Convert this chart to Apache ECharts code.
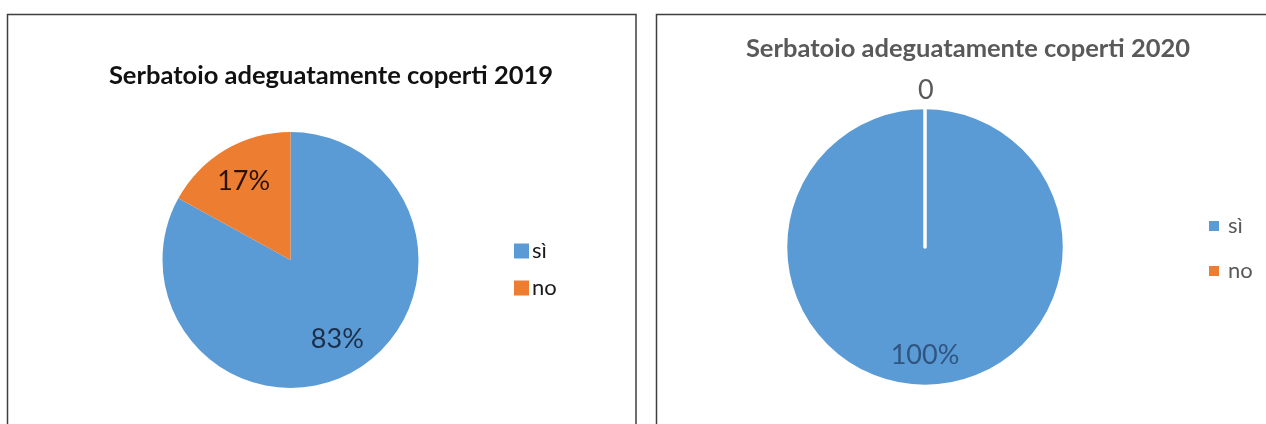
<!DOCTYPE html>
<html>
<head>
<meta charset="utf-8">
<script src="https://cdn.jsdelivr.net/npm/echarts@6/dist/echarts.min.js"></script>
<style>
  html, body { margin: 0; padding: 0; background: #ffffff; }
  #chart { width: 1266px; height: 424px; }
</style>
</head>
<body>
<div id="chart"></div>
<script>
// Categories and values for the two survey years
const categories = ['sì', 'no'];
const values2019 = [83, 17];
const values2020 = [100, 0];
const title2019 = 'Serbatoio adeguatamente coperti 2019';
const title2020 = 'Serbatoio adeguatamente coperti 2020';
const colors = ['#5b9bd5', '#ed7d31'];

const FONT = 'Lato, "Open Sans", sans-serif';

function items(values, extra) {
  return categories.map((name, i) => Object.assign({ name: name, value: values[i] }, extra ? extra(i) : {}));
}

const chart = echarts.init(document.getElementById('chart'), null, { renderer: 'canvas' });

const option = {
  animation: false,
  color: colors,
  graphic: [
    // panel frames
    { type: 'rect', shape: { x: 7.5, y: 14.5, width: 628.5, height: 430 },
      style: { fill: 'none', stroke: '#3f3f3f', lineWidth: 1.5 }, silent: true },
    { type: 'rect', shape: { x: 656.5, y: 14.5, width: 640, height: 430 },
      style: { fill: 'none', stroke: '#3f3f3f', lineWidth: 1.5 }, silent: true }
  ],
  title: [
    { text: title2019, left: 326, top: 58, textAlign: 'center',
      textStyle: { fontFamily: FONT, fontSize: 25.5, fontWeight: 'bold', color: '#111111' } },
    { text: title2020, left: 963, top: 31, textAlign: 'center',
      textStyle: { fontFamily: FONT, fontSize: 25.5, fontWeight: 'bold', color: '#595959' } }
  ],
  legend: [
    { orient: 'vertical', left: 509, top: 235, data: categories,
      icon: 'rect', itemWidth: 15, itemHeight: 15, itemGap: 15,
      selectedMode: false,
      textStyle: { fontFamily: FONT, fontSize: 22, color: '#1a1a1a', padding: [0, 0, 0, -2] } },
    { orient: 'vertical', left: 1204, top: 210, data: categories,
      icon: 'rect', itemWidth: 10, itemHeight: 10, itemGap: 23,
      selectedMode: false,
      textStyle: { fontFamily: FONT, fontSize: 22, color: '#595959', padding: [0, 0, 0, 4] } }
  ],
  series: [
    // 2019 pie
    { type: 'pie', center: [290.5, 260], radius: 128, startAngle: 90, clockwise: true,
      silent: true, label: { show: false }, labelLine: { show: false },
      data: items(values2019) },
    // 2019 percentage labels, carried by a transparent ring so they sit further out
    { type: 'pie', center: [290.5, 260], radius: 178, startAngle: 90, clockwise: true,
      silent: true, itemStyle: { color: 'rgba(0,0,0,0)' }, labelLine: { show: false },
      label: { show: true, position: 'inside', formatter: '{d}%', fontFamily: FONT, fontSize: 27 },
      data: items(values2019, i => ({ label: { color: i === 0 ? '#1c2f4a' : '#2a1206' } })) },
    // 2020 pie, white slice borders
    { type: 'pie', center: [925, 247], radius: 139.5, startAngle: 90, clockwise: true,
      silent: true,
      itemStyle: { borderColor: '#ffffff', borderWidth: 3.5 },
      labelLine: { show: false, length: 12, length2: 0 },
      label: { show: false },
      data: items(values2020, i => i === 1 ? {
        label: { show: true, position: 'outside', formatter: '{c}', offset: [-12, -5],
                 fontFamily: FONT, fontSize: 27, color: '#595959' }
      } : {}) },
    // 2020 percentage label
    { type: 'pie', center: [925, 247], radius: 210, startAngle: 90, clockwise: true,
      silent: true, itemStyle: { color: 'rgba(0,0,0,0)' }, labelLine: { show: false },
      label: { show: true, position: 'inside', formatter: '{d}%', fontFamily: FONT, fontSize: 27, color: '#2f5580' },
      data: items(values2020, i => i === 1 ? { label: { show: false } } : {}) }
  ]
};

chart.setOption(option);
</script>
</body>
</html>
